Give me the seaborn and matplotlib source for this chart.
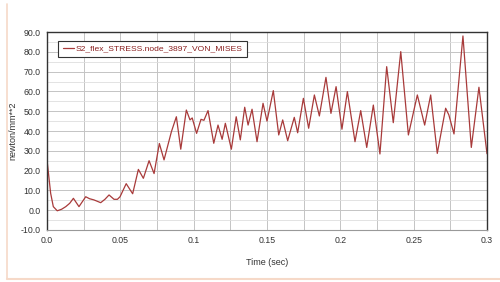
import numpy as np
import pandas as pd
import matplotlib
matplotlib.use("Agg")
import matplotlib.pyplot as plt
import seaborn as sns
from matplotlib.lines import Line2D
from matplotlib.ticker import MultipleLocator

# Values (peaks, troughs and a few in-between points)
time_sec = [0.000, 0.0025, 0.0043, 0.0070, 0.0100, 0.0128, 0.0155, 0.0180, 0.0218, 0.0264,
            0.0290, 0.0320, 0.0366, 0.0395, 0.0423, 0.0457, 0.0480, 0.0498, 0.0540, 0.0584,
            0.0623, 0.0657, 0.0696, 0.0730, 0.0766, 0.0798, 0.0848, 0.0882, 0.0912, 0.0950,
            0.0975, 0.0990, 0.1020, 0.1050, 0.1070, 0.1098, 0.1137, 0.1166, 0.1194, 0.1216,
            0.1257, 0.1290, 0.1318, 0.1348, 0.1371, 0.1398, 0.1432, 0.1473, 0.1500, 0.1543,
            0.1580, 0.1607, 0.1641, 0.1686, 0.1709, 0.1748, 0.1784, 0.1823, 0.1857, 0.1902,
            0.1936, 0.1971, 0.2011, 0.2048, 0.2100, 0.2139, 0.2180, 0.2225, 0.2270, 0.2316,
            0.2361, 0.2412, 0.2464, 0.2525, 0.2575, 0.2616, 0.2661, 0.2718, 0.2740, 0.2775,
            0.2836, 0.2893, 0.2945, 0.3000]
stress = [25.4, 8.5, 1.8, -0.3, 0.5, 1.8, 3.5, 6.0, 1.8, 6.8,
          5.8, 5.2, 3.8, 5.5, 7.7, 5.5, 5.5, 6.8, 13.4, 8.3,
          20.6, 16.1, 25.0, 18.5, 33.7, 25.4, 39.6, 47.2, 30.8, 50.6,
          45.6, 46.6, 38.8, 45.9, 45.4, 50.3, 33.8, 43.0, 35.8, 43.9,
          30.8, 47.2, 35.5, 52.0, 43.0, 51.0, 34.6, 54.0, 45.0, 60.4,
          38.0, 45.6, 35.1, 46.9, 39.1, 56.5, 41.4, 58.2, 47.6, 67.1,
          48.9, 62.4, 40.9, 59.9, 34.6, 50.3, 31.7, 53.1, 28.4, 72.5,
          44.2, 80.1, 38.0, 58.2, 43.0, 58.2, 28.7, 51.5, 48.1, 38.5,
          88.0, 31.7, 62.1, 28.5]

x_ticks = [0.0, 0.05, 0.1, 0.15, 0.2, 0.25, 0.3]
x_tick_labels = ["0.0", "0.05", "0.1", "0.15", "0.2", "0.25", "0.3"]
y_ticks = [-10, 0, 10, 20, 30, 40, 50, 60, 70, 80, 90]
y_tick_labels = ["%.1f" % v for v in y_ticks]
series_name = "S2_flex_STRESS.node_3897_VON_MISES"

df = pd.DataFrame({"time": time_sec, "stress": stress})

sns.set_style("white")
plt.rcParams['font.family'] = ['Liberation Sans Narrow', 'Liberation Sans', 'DejaVu Sans']

fig = plt.figure(figsize=(5.0, 2.82), dpi=100)
ax = fig.add_axes([0.094, 0.1844, 0.88, 0.7021])

sns.lineplot(data=df, x="time", y="stress", ax=ax, color="#a83a3a", linewidth=0.9,
             label=series_name)
for l in ax.get_lines():
    l.set_solid_joinstyle("round")

ax.set_xlim(0, 0.3)
ax.set_ylim(-10, 90)
ax.set_xticks(x_ticks)
ax.set_xticklabels(x_tick_labels)
ax.set_yticks(y_ticks)
ax.set_yticklabels(y_tick_labels)
ax.xaxis.set_minor_locator(MultipleLocator(0.025))
ax.yaxis.set_minor_locator(MultipleLocator(5))

ax.grid(which="major", color="#c4c4c4", linewidth=0.7)
ax.grid(which="minor", axis="y", color="#dedede", linewidth=0.6)
ax.grid(which="minor", axis="x", color="#c4c4c4", linewidth=0.7)
ax.set_axisbelow(True)

ax.tick_params(axis="both", which="both", labelsize=6.3, colors="#333333", pad=2)
ax.tick_params(axis="y", which="both", direction="out", length=2.5, width=0.6)
ax.tick_params(axis="x", which="major", direction="in", length=0, pad=4)
ax.tick_params(axis="x", which="minor", direction="in", length=3, width=0.8)

for side in ["left", "top", "right"]:
    ax.spines[side].set_color("#333333")
    ax.spines[side].set_linewidth(1.0)
ax.spines["bottom"].set_color("#999999")
ax.spines["bottom"].set_linewidth(0.8)

ax.set_xlabel("Time (sec)", fontsize=6.5, color="#333333", labelpad=10)
ax.set_ylabel("newton/mm**2", fontsize=6.5, color="#333333")
ax.yaxis.set_label_coords(-0.068, 0.5)

leg = ax.legend(loc="upper left", bbox_to_anchor=(0.016, 0.978), fontsize=6.1,
                handlelength=1.3, handletextpad=0.25, borderpad=0.5,
                fancybox=False, framealpha=1, edgecolor="#333333")
leg.get_frame().set_linewidth(0.8)
for txt in leg.get_texts():
    txt.set_color("#8a2020")

# pale frame lines around the screenshot
fig.add_artist(Line2D([0.014, 0.014], [0.01, 0.985], color="#f6d9c8", linewidth=1.2))
fig.add_artist(Line2D([0.014, 1.0], [0.01, 0.01], color="#f6d9c8", linewidth=1.5))

fig.savefig("out.png", dpi=100)
